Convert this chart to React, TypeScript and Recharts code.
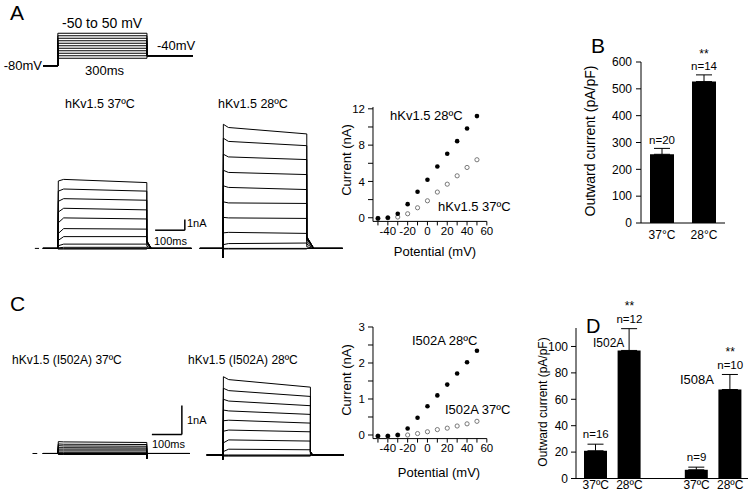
import React from 'react';
import {
  LineChart, Line, XAxis, YAxis, ScatterChart, Scatter,
  BarChart, Bar, ErrorBar, ReferenceLine, ReferenceDot,
} from 'recharts';

const FONT = '"Liberation Sans", Arial, Helvetica, sans-serif';
const BLACK = '#000';

// ---------------- voltage protocol ----------------
const stepVoltages = [-50, -40, -30, -20, -10, 0, 10, 20, 30, 40, 50];
const holdingVoltage = -80;
const tailVoltage = -40;
const stepOn = 50; // ms
const stepOff = 350; // ms
const protocolEnd = 505; // ms

// ---------------- I-V data (nA) ----------------
const ivVoltages = [-50, -40, -30, -20, -10, 0, 10, 20, 30, 40, 50];
const ivA28 = [-0.07, 0, 0.44, 1.5, 2.86, 4.18, 5.65, 7.05, 8.44, 9.83, 11.2];
const ivA37 = [-0.07, 0, 0.08, 0.44, 1.1, 1.87, 2.83, 3.7, 4.62, 5.54, 6.39];
const ivC28 = [-0.03, -0.03, 0, 0.18, 0.48, 0.8, 1.1, 1.4, 1.71, 2.02, 2.34];
const ivC37 = [-0.03, -0.03, 0, 0, 0.04, 0.09, 0.15, 0.19, 0.25, 0.31, 0.38];

// ---------------- current traces (nA), one value per step voltage ----------------
const trA37Peak = [-0.05, -0.03, 0.05, 0.25, 0.75, 1.4, 2.4, 3.4, 4.4, 5.35, 6.3];
const trA37Plateau = [-0.05, -0.03, 0.1, 0.4, 1.1, 1.85, 2.85, 3.75, 4.65, 5.55, 6.45];
const trA37End = [-0.05, -0.03, 0.1, 0.4, 1.1, 1.8, 2.75, 3.6, 4.5, 5.35, 6.15];
const trA37Tail = [0, 0, 0.05, 0.2, 0.4, 0.5, 0.6, 0.65, 0.7, 0.7, 0.7];

const trA28Peak = [-0.05, 0, 0.35, 1.45, 2.9, 4.35, 5.85, 7.3, 8.8, 10.3, 11.6];
const trA28Plateau = [-0.05, 0, 0.45, 1.5, 2.85, 4.25, 5.7, 7.1, 8.55, 10.0, 11.3];
const trA28End = [-0.05, 0, 0.5, 1.4, 2.8, 4.2, 5.5, 6.9, 8.3, 9.6, 10.7];
const trA28Tail = [0, 0, 0.15, 0.4, 0.65, 0.85, 0.95, 1.0, 1.05, 1.1, 1.1];

const trC37Peak = [-0.03, -0.03, 0, 0, 0.04, 0.09, 0.15, 0.2, 0.27, 0.33, 0.41];
const trC37Plateau = [-0.03, -0.03, 0, 0, 0.04, 0.09, 0.15, 0.2, 0.26, 0.32, 0.4];
const trC37End = [-0.03, -0.03, 0, 0, 0.04, 0.09, 0.15, 0.19, 0.25, 0.31, 0.38];
const trC37Tail = [-0.17, -0.17, -0.17, -0.17, -0.17, -0.17, -0.17, -0.17, -0.17, -0.17, -0.17];

const trC28Peak = [-0.03, -0.03, 0, 0.12, 0.42, 0.82, 1.18, 1.55, 1.92, 2.3, 2.7];
const trC28Plateau = [-0.03, -0.03, 0, 0.2, 0.52, 0.86, 1.2, 1.52, 1.86, 2.22, 2.6];
const trC28End = [-0.03, -0.03, 0, 0.18, 0.48, 0.8, 1.1, 1.4, 1.7, 2.02, 2.34];
const trC28Tail = [0, 0, 0, 0.02, 0.05, 0.08, 0.1, 0.1, 0.12, 0.12, 0.12];

// ---------------- bar charts ----------------
const bTemps = ['37°C', '28°C'];
const bMeans = [256, 527];
const bErrors = [22, 25];
const bCounts = ['n=20', 'n=14'];
const bStars = ['', '**'];

const dKeys = ['a', 'b', 'gap', 'c', 'd'];
const dTemps = ['37ºC', '28ºC', '', '37ºC', '28ºC'];
const dMeans = [21, 97, 0, 6.6, 67.4];
const dErrors = [5, 16.5, 0, 2, 11.4];
const dCounts = ['n=16', 'n=12', '', 'n=9', 'n=10'];
const dStars = ['', '**', '', '', '**'];

// ---------------- helpers ----------------
type Frame = { left: number; top: number; width: number; height: number; margin: any };
function frame(pl: number, pt: number, pw: number, ph: number, yW = 0, xH = 0, m = { l: 4, t: 4, r: 4, b: 4 }): Frame {
  return {
    left: pl - m.l - yW,
    top: pt - m.t,
    width: m.l + yW + pw + m.r,
    height: m.t + ph + xH + m.b,
    margin: { top: m.t, right: m.r, bottom: m.b, left: m.l },
  };
}

type TraceSet = {
  peak: number[]; plateau: number[]; end: number[]; tail: number[];
  onArtifact: number; tailMs: number; tStart: number; tEnd: number;
};
function buildTraces(s: TraceSet) {
  return s.end.map((_, k) => [
    { t: s.tStart, v: 0 },
    { t: stepOn, v: 0 },
    { t: stepOn, v: s.onArtifact },
    { t: stepOn + 2, v: s.peak[k] },
    { t: stepOn + 20, v: s.plateau[k] },
    { t: stepOff, v: s.end[k] },
    { t: stepOff, v: s.tail[k] },
    { t: stepOff + s.tailMs, v: 0 },
    { t: s.tEnd, v: 0 },
  ]);
}

const protocolData = stepVoltages.map((V) => [
  { t: 0, v: holdingVoltage },
  { t: stepOn, v: holdingVoltage },
  { t: stepOn, v: V },
  { t: stepOff, v: V },
  { t: stepOff, v: tailVoltage },
  { t: protocolEnd, v: tailVoltage },
]);

const tracesA37 = buildTraces({ peak: trA37Peak, plateau: trA37Plateau, end: trA37End, tail: trA37Tail, onArtifact: 0, tailMs: 15, tStart: 0, tEnd: 500 });
const tracesA28 = buildTraces({ peak: trA28Peak, plateau: trA28Plateau, end: trA28End, tail: trA28Tail, onArtifact: -0.85, tailMs: 25, tStart: -32, tEnd: 478 });
const tracesC37 = buildTraces({ peak: trC37Peak, plateau: trC37Plateau, end: trC37End, tail: trC37Tail, onArtifact: 0, tailMs: 1, tStart: 0, tEnd: 495 });
const tracesC28 = buildTraces({ peak: trC28Peak, plateau: trC28Plateau, end: trC28End, tail: trC28Tail, onArtifact: -0.15, tailMs: 8, tStart: -5, tEnd: 465 });

const ivPts = (vals: number[]) => ivVoltages.map((v, k) => ({ v, i: vals[k] }));

const bData = bTemps.map((temp, k) => ({ temp, mean: bMeans[k], err: [0, bErrors[k]] }));
const dData = dKeys.map((key, k) => ({ key, mean: dMeans[k], err: [0, dErrors[k]] }));

const tickStyle = { fill: BLACK, fontSize: 12, fontFamily: FONT };
const ivTickStyle = { fill: BLACK, fontSize: 11.5, fontFamily: FONT };
const axisStroke = { stroke: BLACK, strokeWidth: 1 };

function Positioned({ f, children }: { f: Frame; children: any }) {
  return <div style={{ position: 'absolute', left: f.left, top: f.top }}>{children}</div>;
}

function TraceChart({ f, xDomain, yDomain, traces, children }: any) {
  return (
    <Positioned f={f}>
      <LineChart width={f.width} height={f.height} margin={f.margin}>
        <XAxis type="number" dataKey="t" domain={xDomain} hide />
        <YAxis type="number" dataKey="v" domain={yDomain} hide />
        {traces.map((d: any, k: number) => (
          <Line key={k} data={d} dataKey="v" type="linear" stroke={BLACK} strokeWidth={1}
            dot={false} activeDot={false} isAnimationActive={false} />
        ))}
        {children}
      </LineChart>
    </Positioned>
  );
}

const filledDot = (p: any) => <circle cx={p.cx} cy={p.cy} r={2.3} fill={BLACK} />;
const openDot = (p: any) => <circle cx={p.cx} cy={p.cy} r={2.1} fill="none" stroke="#6a6a6a" strokeWidth={0.9} />;

function IVChart({ f, yDomain, yTicks, yLabelEvery, d28, d37 }: any) {
  return (
    <Positioned f={f}>
      <ScatterChart width={f.width} height={f.height} margin={f.margin}>
        <XAxis type="number" dataKey="v" domain={[-55, 60]} ticks={[-50, -40, -30, -20, -10, 0, 10, 20, 30, 40, 50, 60]}
          interval={0} tickFormatter={(x: number) => (x % 20 === 0 ? String(x) : '')}
          height={20} tickSize={4} tickMargin={1} axisLine={axisStroke} tickLine={axisStroke} tick={ivTickStyle} />
        <YAxis type="number" dataKey="i" domain={yDomain} ticks={yTicks} interval={0}
          tickFormatter={(y: number) => (Math.abs(y / yLabelEvery - Math.round(y / yLabelEvery)) < 1e-6 ? String(y) : '')}
          width={40} tickSize={5} tickMargin={3} axisLine={axisStroke} tickLine={axisStroke} tick={ivTickStyle} />
        <Scatter data={d37} shape={openDot} isAnimationActive={false} />
        <Scatter data={d28} shape={filledDot} isAnimationActive={false} />
      </ScatterChart>
    </Positioned>
  );
}

const lbl = (value: string, size = 11) => ({ value, position: 'center', fill: BLACK, fontSize: size, fontFamily: FONT });

// layouts
const fProto = frame(43, 32.25, 150, 35);
const fA37 = frame(31.12, 119.6, 163.35, 139.1);
const fA28 = frame(199.2, 119.6, 152.6, 139.1);
const fC37 = frame(31.12, 380.5, 163.35, 87);
const fC28 = frame(198.2, 368, 159.14, 101.5);
const fIVA = frame(373.2, 107.2, 113.85, 114.4, 40, 20, { l: 3, t: 5, r: 15, b: 3 });
const fIVC = frame(373.2, 327, 113.85, 111.6, 40, 20, { l: 3, t: 5, r: 15, b: 3 });
const fB = frame(641, 62, 84, 161, 40, 20, { l: 3, t: 30, r: 10, b: 3 });
const fD = frame(576, 327.5, 172, 150.5, 35, 16, { l: 3, t: 30, r: 4, b: 3 });

type T = { s: string; x: number; y: number; size: number; anchor?: string; rot?: boolean };
const texts: T[] = [
  { s: 'A', x: 10, y: 20, size: 21 },
  { s: 'B', x: 591, y: 53, size: 21 },
  { s: 'C', x: 10, y: 311, size: 21 },
  { s: 'D', x: 586, y: 333, size: 20 },
  { s: '-50 to 50 mV', x: 62, y: 28, size: 14 },
  { s: '-80mV', x: 42, y: 70, size: 13, anchor: 'end' },
  { s: '-40mV', x: 157, y: 50, size: 13 },
  { s: '300ms', x: 85, y: 75, size: 13 },
  { s: 'hKv1.5 37ºC', x: 65, y: 108, size: 12.5 },
  { s: 'hKv1.5 28ºC', x: 218, y: 108, size: 12.5 },
  { s: '1nA', x: 187, y: 227, size: 11 },
  { s: '100ms', x: 154, y: 245, size: 11 },
  { s: 'hKv1.5 (I502A) 37ºC', x: 12, y: 364, size: 12 },
  { s: 'hKv1.5 (I502A) 28ºC', x: 188, y: 364, size: 12 },
  { s: '1nA', x: 187, y: 424, size: 11 },
  { s: '100ms', x: 152, y: 448, size: 11 },
  { s: 'hKv1.5 28ºC', x: 390, y: 120, size: 13 },
  { s: 'hKv1.5 37ºC', x: 438, y: 211, size: 13 },
  { s: 'Potential (mV)', x: 435, y: 256, size: 13, anchor: 'middle' },
  { s: 'Current (nA)', x: 351, y: 160, size: 13, anchor: 'middle', rot: true },
  { s: 'I502A 28ºC', x: 412, y: 345, size: 13 },
  { s: 'I502A 37ºC', x: 445, y: 414, size: 13 },
  { s: 'Potential (mV)', x: 439, y: 477, size: 13, anchor: 'middle' },
  { s: 'Current (nA)', x: 351, y: 380, size: 13, anchor: 'middle', rot: true },
  { s: 'Outward current (pA/pF)', x: 595, y: 141, size: 14, anchor: 'middle', rot: true },
  { s: 'Outward current (pA/pF)', x: 547, y: 402, size: 12, anchor: 'middle', rot: true },
  { s: 'I502A', x: 593, y: 347, size: 12 },
  { s: 'I508A', x: 680, y: 384, size: 13 },
];

export default function App() {
  return (
    <div style={{ position: 'absolute', left: 0, top: 0, width: 754, height: 497, background: '#fff', overflow: 'hidden', fontFamily: FONT }}>
      {/* voltage protocol */}
      <TraceChart f={fProto} xDomain={[0, protocolEnd]} yDomain={[-85, 55]} traces={protocolData} />

      {/* panel A traces */}
      <TraceChart f={fA37} xDomain={[-40, 510]} yDomain={[-1, 12]} traces={tracesA37}>
        <ReferenceLine segment={[{ x: -27, y: 0 }, { x: -13, y: 0 }]} stroke={BLACK} strokeWidth={1} ifOverflow="visible" />
        <ReferenceLine segment={[{ x: 378, y: 1.7 }, { x: 478, y: 1.7 }]} stroke={BLACK} strokeWidth={1.5} ifOverflow="visible" />
        <ReferenceLine segment={[{ x: 478, y: 1.7 }, { x: 478, y: 2.7 }]} stroke={BLACK} strokeWidth={1.5} ifOverflow="visible" />
      </TraceChart>
      <TraceChart f={fA28} xDomain={[-35, 510]} yDomain={[-1, 12]} traces={tracesA28} />

      {/* panel C traces */}
      <TraceChart f={fC37} xDomain={[-40, 510]} yDomain={[-0.5, 2.5]} traces={tracesC37}>
        <ReferenceLine segment={[{ x: -35, y: 0 }, { x: -19, y: 0 }]} stroke={BLACK} strokeWidth={1} ifOverflow="visible" />
        <ReferenceLine segment={[{ x: 367, y: 0.655 }, { x: 468, y: 0.655 }]} stroke={BLACK} strokeWidth={1.5} ifOverflow="visible" />
        <ReferenceLine segment={[{ x: 468, y: 0.655 }, { x: 468, y: 1.655 }]} stroke={BLACK} strokeWidth={1.5} ifOverflow="visible" />
      </TraceChart>
      <TraceChart f={fC28} xDomain={[-35, 510]} yDomain={[-0.5, 3]} traces={tracesC28} />

      {/* I-V curves */}
      <IVChart f={fIVA} yDomain={[-0.4, 12.2]} yTicks={[0, 2, 4, 6, 8, 10, 12]} yLabelEvery={4} d28={ivPts(ivA28)} d37={ivPts(ivA37)} />
      <IVChart f={fIVC} yDomain={[-0.1, 3]} yTicks={[0, 0.5, 1, 1.5, 2, 2.5, 3]} yLabelEvery={1} d28={ivPts(ivC28)} d37={ivPts(ivC37)} />

      {/* panel B */}
      <Positioned f={fB}>
        <BarChart width={fB.width} height={fB.height} margin={fB.margin} data={bData}>
          <XAxis dataKey="temp" type="category" height={20} tickLine={false} tickSize={5} tickMargin={2}
            axisLine={axisStroke} tick={tickStyle} interval={0} />
          <YAxis type="number" domain={[0, 600]} ticks={[0, 100, 200, 300, 400, 500, 600]} interval={0}
            width={40} tickSize={5} tickMargin={4} axisLine={axisStroke} tickLine={axisStroke} tick={tickStyle} />
          <Bar dataKey="mean" fill={BLACK} barSize={24} isAnimationActive={false}>
            <ErrorBar dataKey="err" width={8} stroke={BLACK} strokeWidth={1} direction="y" />
          </Bar>
          {bTemps.map((t, k) => (
            <ReferenceDot key={'n' + k} x={t} y={bMeans[k] + bErrors[k] + 33} r={0} ifOverflow="visible"
              fill="none" stroke="none" label={lbl(bCounts[k], 11.5)} />
          ))}
          {bTemps.map((t, k) => bStars[k] ? (
            <ReferenceDot key={'s' + k} x={t} y={bMeans[k] + bErrors[k] + 77} r={0} ifOverflow="visible"
              fill="none" stroke="none" label={lbl(bStars[k], 12)} />
          ) : null)}
        </BarChart>
      </Positioned>

      {/* panel D */}
      <Positioned f={fD}>
        <BarChart width={fD.width} height={fD.height} margin={fD.margin} data={dData}>
          <XAxis dataKey="key" type="category" height={16} tickLine={false} tickSize={1} tickMargin={1}
            padding={{ left: 3, right: 1 }} axisLine={axisStroke} tick={tickStyle} interval={0}
            tickFormatter={(k: string) => dTemps[dKeys.indexOf(k)]} />
          <YAxis type="number" domain={[0, 114]} ticks={[0, 20, 40, 60, 80, 100]} interval={0}
            width={35} tickSize={5} tickMargin={3} axisLine={axisStroke} tickLine={axisStroke} tick={tickStyle} />
          <Bar dataKey="mean" fill={BLACK} barSize={23} isAnimationActive={false}>
            <ErrorBar dataKey="err" width={8} stroke={BLACK} strokeWidth={1} direction="y" />
          </Bar>
          {dKeys.map((key, k) => dCounts[k] ? (
            <ReferenceDot key={'n' + k} x={key} y={dMeans[k] + dErrors[k] + 7.5} r={0} ifOverflow="visible"
              fill="none" stroke="none" label={lbl(dCounts[k], 11.5)} />
          ) : null)}
          {dKeys.map((key, k) => dStars[k] ? (
            <ReferenceDot key={'s' + k} x={key} y={dMeans[k] + dErrors[k] + 17.5} r={0} ifOverflow="visible"
              fill="none" stroke="none" label={lbl(dStars[k], 12)} />
          ) : null)}
        </BarChart>
      </Positioned>

      {/* text overlay */}
      <svg width={754} height={497} style={{ position: 'absolute', left: 0, top: 0, pointerEvents: 'none' }}>
        {texts.map((t, k) => (
          <text key={k} x={t.rot ? 0 : t.x} y={t.rot ? 0 : t.y}
            transform={t.rot ? `translate(${t.x},${t.y}) rotate(-90)` : undefined}
            fontSize={t.size} fontFamily={FONT} fill={BLACK} textAnchor={t.anchor || 'start'}>
            {t.s}
          </text>
        ))}
      </svg>
    </div>
  );
}
